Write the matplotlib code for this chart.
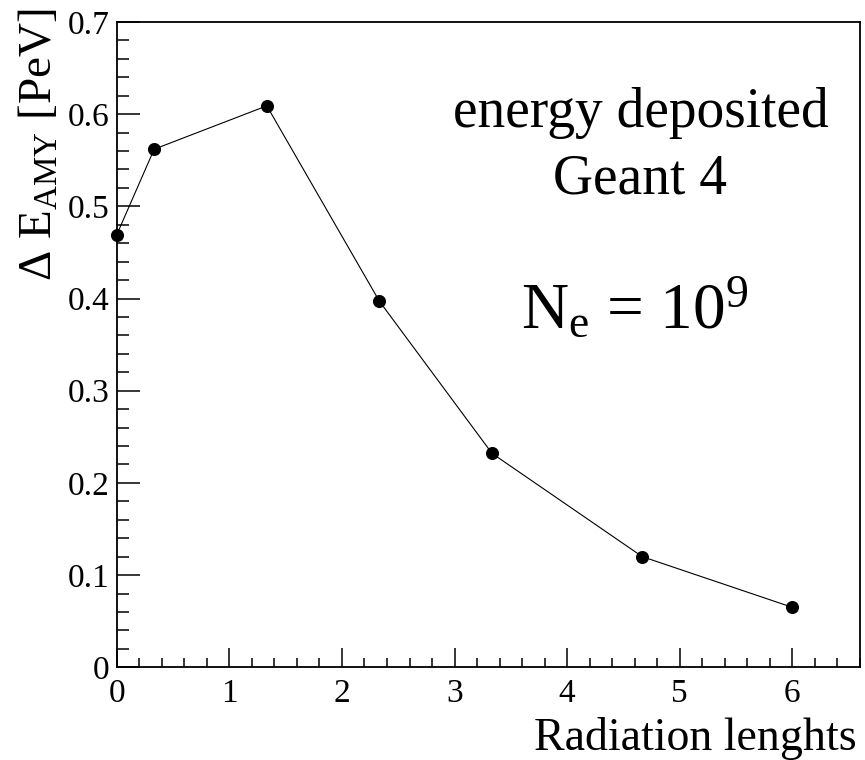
import numpy as np
import matplotlib
matplotlib.use("Agg")
import matplotlib.pyplot as plt
from matplotlib.ticker import MultipleLocator

plt.rcParams['font.family'] = ['Liberation Serif', 'DejaVu Serif']
plt.rcParams['mathtext.fontset'] = 'custom'
plt.rcParams['mathtext.rm'] = 'Liberation Serif'
plt.rcParams['mathtext.it'] = 'Liberation Serif:italic'

# energy deposited vs depth (radiation lengths)
rad_len = [0.0, 0.333, 1.333, 2.333, 3.333, 4.667, 6.0]
de_amy = [0.469, 0.562, 0.609, 0.397, 0.232, 0.120, 0.065]

fig = plt.figure(figsize=(8.65, 7.6), dpi=100)
ax = fig.add_axes([0.1349, 0.1220, 0.8593, 0.8491])

ax.plot(rad_len, de_amy, '-', color='black', lw=0.8)
ax.plot(rad_len, de_amy, 'o', color='black', ms=8.4, clip_on=False)

ax.set_xlim(0, 6.6)
ax.set_ylim(0, 0.7)
ax.xaxis.set_major_locator(MultipleLocator(1))
ax.xaxis.set_minor_locator(MultipleLocator(0.2))
ax.yaxis.set_major_locator(MultipleLocator(0.1))
ax.yaxis.set_minor_locator(MultipleLocator(0.02))
ax.xaxis.set_major_formatter(plt.FuncFormatter(lambda v, p: '%g' % v))
ax.yaxis.set_major_formatter(plt.FuncFormatter(lambda v, p: '%g' % round(v, 2)))

for s in ax.spines.values():
    s.set_linewidth(1.3)

ax.tick_params(which='both', direction='in', top=False, right=False,
               labelsize=24, width=1.1)
ax.tick_params(axis='y', which='major', length=16.5, pad=5)
ax.tick_params(axis='y', which='minor', length=8.6)
ax.tick_params(axis='x', which='major', length=13.7, pad=8)
ax.tick_params(axis='x', which='minor', length=6.5)

# axis titles, ROOT style: flush with the far ends of the axes
fig.text(857 / 865, 1 - 750 / 760, 'Radiation lenghts', fontsize=33,
         ha='right', va='baseline')
fig.text(40 / 865, 1 - 8 / 760, r'$\Delta$ E$_{\rm AMY}$ [PeV]', fontsize=34,
         rotation=90, ha='center', va='top')

fig.text(641 / 865, 1 - 126.7 / 760, 'energy deposited', fontsize=40,
         ha='center', va='baseline')
fig.text(640 / 865, 1 - 193.3 / 760, 'Geant 4', fontsize=40,
         ha='center', va='baseline')
fig.text(635 / 865, 1 - 328 / 760, r'N$_{\rm e}$ = 10$^{9}$', fontsize=47,
         ha='center', va='baseline')

fig.savefig('out.png', dpi=100)
